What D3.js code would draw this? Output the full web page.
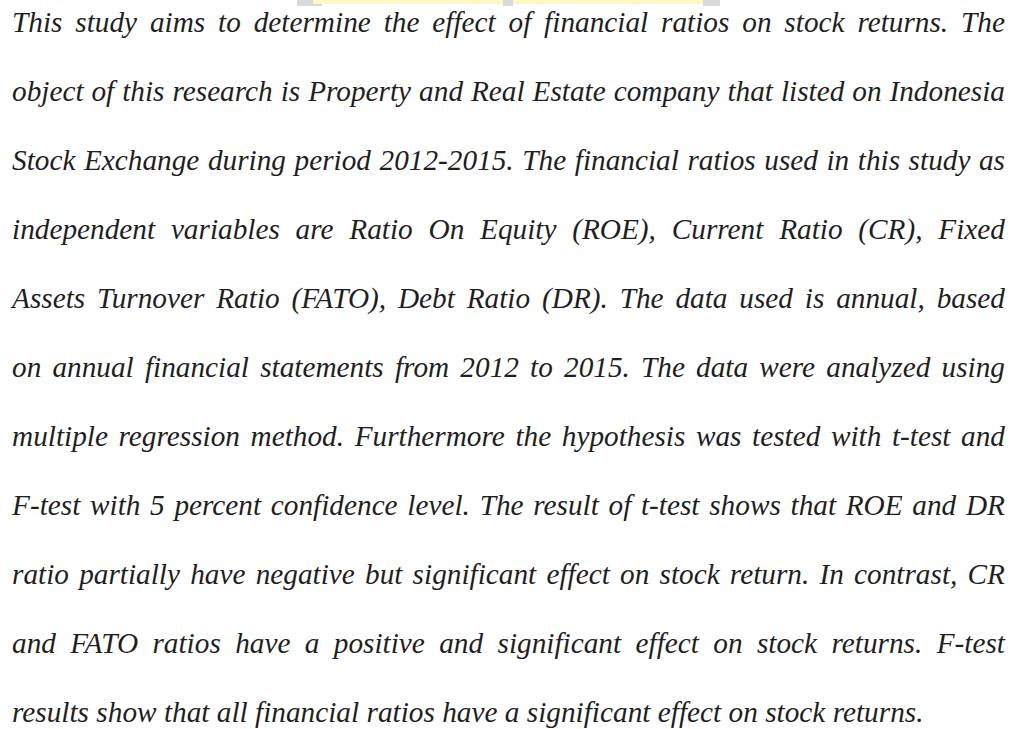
<!DOCTYPE html>
<html>
<head>
<meta charset="utf-8">
<script src="https://cdn.jsdelivr.net/npm/d3@7"></script>
<style>
  body { margin: 0; background: #fff; }
  svg { display: block; }
</style>
</head>
<body>
<div id="cnv"></div>
<script>
var width = 1015,
    height = 729;

// paragraph, one entry per printed line
var lines = [
  "This study aims to determine the effect of financial ratios on stock returns. The",
  "object of this research is Property and Real Estate company that listed on Indonesia",
  "Stock Exchange during period 2012-2015. The financial ratios used in this study as",
  "independent variables are Ratio On Equity (ROE), Current Ratio (CR), Fixed",
  "Assets Turnover Ratio (FATO), Debt Ratio (DR). The data used is annual, based",
  "on annual financial statements from 2012 to 2015. The data were analyzed using",
  "multiple regression method. Furthermore the hypothesis was tested with t-test and",
  "F-test with 5 percent confidence level. The result of t-test shows that ROE and DR",
  "ratio partially have negative but significant effect on stock return. In contrast, CR",
  "and FATO ratios have a positive and significant effect on stock returns. F-test",
  "results show that all financial ratios have a significant effect on stock returns."
];

// faint watermark strip at the top edge
var markStart = [297, 313, 503, 513, 703];
var markEnd   = [322, 503, 513, 703, 720];
var markKind  = ["grey", "yellow", "grey", "yellow", "grey"];

var margin = {left: 12, right: 10, top: 32},
    lineStep = 69,
    fontSize = 29,
    stretch = 1.01; // the scanned face runs a touch wider than Liberation Serif

var svg = d3.select("#cnv").append("svg")
  .attr("width", width)
  .attr("height", height);

svg.selectAll("rect.mark")
  .data(markStart)
  .enter().append("rect")
    .attr("class", "mark")
    .attr("x", function(d){ return d; })
    .attr("y", 0)
    .attr("width", function(d, i){ return markEnd[i] - d; })
    .attr("height", function(d, i){ return markKind[i] == "grey" ? 6 : 4; })
    .attr("fill", function(d, i){ return markKind[i] == "grey" ? "#dadada" : "#fcf9c4"; });

var y = d3.scaleLinear()
  .domain([0, lines.length - 1])
  .range([margin.top, margin.top + lineStep * (lines.length - 1)]);

var textWidth = width - margin.left - margin.right;

var rows = svg.selectAll("g.line")
  .data(lines)
  .enter().append("g")
    .attr("class", "line")
    .attr("transform", function(d, i){ return "translate(" + margin.left + "," + y(i) + ")"; });

rows.each(function(line, i){
  var row = d3.select(this);
  var words = line.split(" ");
  var nodes = row.selectAll("text")
    .data(words)
    .enter().append("text")
      .attr("font-family", "'Liberation Serif', 'Times New Roman', serif")
      .attr("font-style", "italic")
      .attr("font-size", fontSize)
      .attr("fill", "#1f1f1f")
      .text(function(d){ return d; });

  var widths = [];
  nodes.each(function(){ widths.push(this.getComputedTextLength() * stretch); });
  var total = d3.sum(widths);
  var isLast = (i == lines.length - 1);
  var gap = isLast ? fontSize * 0.25 * stretch : (textWidth - total) / (words.length - 1);

  // justify: spread the leftover room evenly between the words
  var x = 0;
  nodes.attr("transform", function(d, j){
    var pos = x;
    x += widths[j] + gap;
    return "translate(" + pos + ",0) scale(" + stretch + ",1)";
  });
});
</script>
</body>
</html>
